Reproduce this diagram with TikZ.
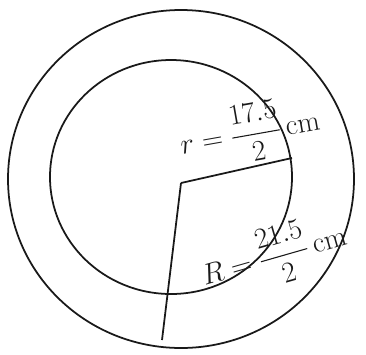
\documentclass[tikz,border=0pt]{standalone}
\usepackage{amsmath,amssymb}
\usepackage{tikz}
\usetikzlibrary{positioning}
\definecolor{inkgray}{RGB}{25,25,25}

\tikzset{
  pen/.style={draw=inkgray, line width=1.5pt},
  radlabel/.style={inner sep=0pt, text=inkgray, font=\fontsize{23}{27}\selectfont}
}

\begin{document}
\begin{tikzpicture}[x=0.03cm, y=-0.03cm]
            % Frame
            \useasboundingbox (0,0) rectangle (366,354);

            % Centre and ends of the radii
            \coordinate (O) at (181,183);
            \coordinate (rEnd) at (292,158);
            \coordinate (REnd) at (162,340);

            % Circles
            \draw[pen] (181,179) circle[x radius=173, y radius=169];
            \draw[pen] (171,177) circle[x radius=121, y radius=117];

            % Radii
            \draw[pen] (O) -- (rEnd);
            \draw[pen] (O) -- (REnd);

            % Labels
            \node[radlabel, rotate=10] (rLabel) at (250,133) {$r=\dfrac{17.5}{2}\,\mathrm{cm}$};
            \node[radlabel, rotate=16] (RLabel) at (274,256) {$R=\dfrac{21.5}{2}\,\mathrm{cm}$};
        \end{tikzpicture}
\end{document}
